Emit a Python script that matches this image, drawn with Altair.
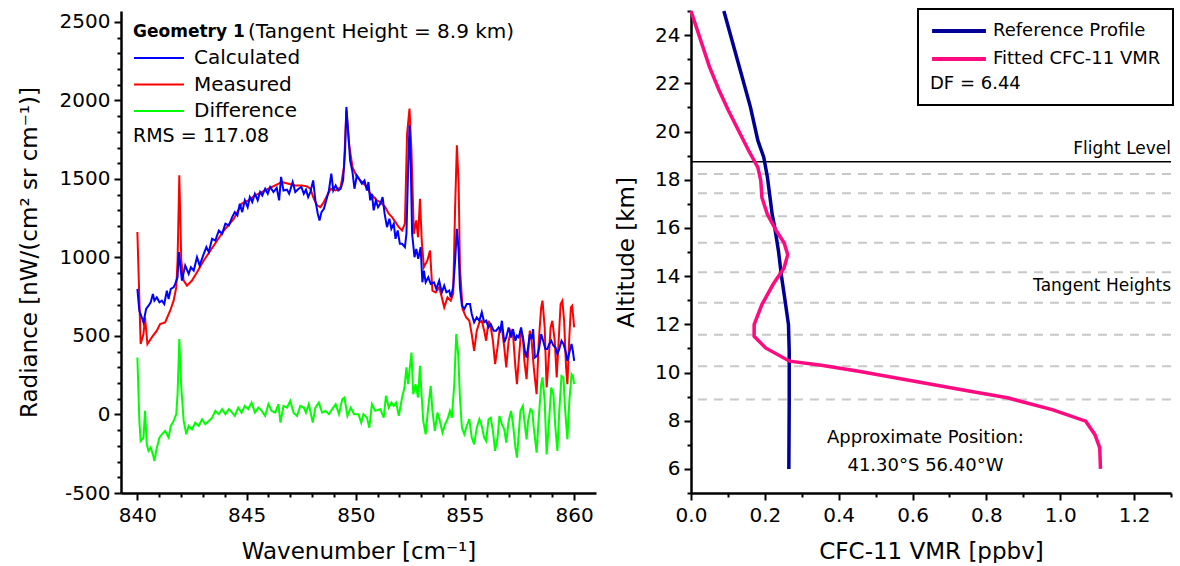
import altair as alt
import pandas as pd

FONT = "DejaVu Sans"

# ---------------- Left panel: spectra ----------------
calc_wn = [840.00, 840.09, 840.20, 840.28, 840.40, 840.51, 840.61, 840.71, 840.78, 840.89,
           841.01, 841.12, 841.23, 841.35, 841.43, 841.53, 841.66, 841.73, 841.84, 841.90,
           841.96, 842.04, 842.19, 842.35, 842.45, 842.58, 842.73, 842.85, 843.01, 843.16,
           843.27, 843.42, 843.57, 843.73, 843.88, 844.03, 844.19, 844.34, 844.46, 844.58,
           844.69, 844.80, 844.92, 845.05, 845.15, 845.26, 845.38, 845.51, 845.62, 845.72,
           845.85, 845.97, 846.08, 846.23, 846.38, 846.49, 846.58, 846.69, 846.85, 846.95,
           847.11, 847.23, 847.38, 847.51, 847.62, 847.72, 847.82, 847.92, 848.05, 848.15,
           848.26, 848.34, 848.43, 848.54, 848.65, 848.77, 848.88, 848.97, 849.08, 849.20,
           849.31, 849.42, 849.51, 849.57, 849.66, 849.74, 849.85, 849.94, 850.05, 850.15,
           850.28, 850.40, 850.51, 850.58, 850.66, 850.74, 850.82, 850.92, 851.02, 851.12,
           851.23, 851.32, 851.43, 851.54, 851.63, 851.74, 851.82, 851.92, 852.02, 852.12,
           852.25, 852.32, 852.40, 852.46, 852.52, 852.58, 852.69, 852.77, 852.86, 852.97,
           853.05, 853.12, 853.20, 853.32, 853.43, 853.58, 853.69, 853.82, 853.94, 854.05,
           854.15, 854.28, 854.35, 854.46, 854.55, 854.63, 854.71, 854.77, 854.86, 854.97,
           855.08, 855.23, 855.31, 855.42, 855.54, 855.66, 855.77, 855.88, 855.97, 856.08,
           856.18, 856.31, 856.43, 856.54, 856.62, 856.69, 856.80, 856.89, 857.00, 857.11,
           857.20, 857.31, 857.38, 857.46, 857.57, 857.66, 857.74, 857.82, 857.89, 857.97,
           858.05, 858.12, 858.20, 858.31, 858.40, 858.49, 858.58, 858.68, 858.77, 858.86,
           858.95, 859.05, 859.15, 859.23, 859.32, 859.42, 859.51, 859.60, 859.69, 859.78,
           859.88, 859.94, 860.00]
calc_val = [800, 661, 619, 587, 672, 693, 715, 768, 725, 746,
            715, 725, 704, 789, 736, 800, 810, 832, 874, 1034,
            959, 853, 949, 896, 938, 917, 1002, 949, 1012, 1066,
            1034, 1119, 1108, 1172, 1151, 1215, 1204, 1257, 1289, 1268,
            1342, 1289, 1364, 1321, 1385, 1353, 1406, 1364, 1417, 1395,
            1438, 1406, 1449, 1417, 1444, 1364, 1513, 1427, 1432, 1406,
            1481, 1417, 1438, 1449, 1406, 1432, 1385, 1417, 1491, 1364,
            1279, 1236, 1289, 1310, 1364, 1427, 1534, 1427, 1459, 1427,
            1438, 1491, 1683, 1959, 1789, 1619, 1544, 1438, 1523, 1502,
            1470, 1491, 1427, 1481, 1364, 1406, 1300, 1364, 1321, 1342,
            1385, 1279, 1193, 1247, 1183, 1215, 1119, 1172, 1087, 1087,
            1066, 1151, 1576, 1842, 1576, 1151, 1002, 1055, 991, 1066,
            842, 917, 842, 874, 832, 842, 800, 853, 778, 821,
            778, 789, 746, 810, 981, 1183, 1044, 810, 693, 672,
            704, 704, 640, 587, 619, 597, 651, 587, 597, 555,
            576, 534, 534, 555, 534, 597, 459, 491, 555, 491,
            544, 470, 502, 491, 555, 480, 406, 363, 427, 512,
            480, 544, 363, 374, 427, 512, 470, 417, 417, 449,
            470, 438, 427, 385, 417, 470, 449, 406, 342, 395,
            449, 406, 342]

meas_wn = [840.00, 840.15, 840.28, 840.35, 840.46, 840.66, 840.89, 841.04, 841.27, 841.50,
           841.66, 841.78, 841.84, 841.92, 842.01, 842.12, 842.27, 842.50, 842.73, 843.04,
           843.50, 843.96, 844.42, 844.77, 845.08, 845.38, 845.69, 846.00, 846.31, 846.62,
           846.92, 847.23, 847.54, 847.77, 847.92, 848.08, 848.23, 848.38, 848.54, 848.85,
           849.08, 849.31, 849.46, 849.57, 849.69, 849.85, 850.05, 850.28, 850.51, 850.66,
           850.82, 850.97, 851.12, 851.35, 851.51, 851.66, 851.82, 851.97, 852.12, 852.25,
           852.35, 852.46, 852.55, 852.66, 852.77, 852.85, 852.94, 853.02, 853.12, 853.28,
           853.40, 853.51, 853.66, 853.82, 853.94, 854.05, 854.20, 854.35, 854.46, 854.55,
           854.63, 854.71, 854.77, 854.89, 855.05, 855.20, 855.31, 855.42, 855.54, 855.66,
           855.77, 855.88, 855.97, 856.08, 856.18, 856.28, 856.38, 856.49, 856.58, 856.69,
           856.80, 856.89, 857.00, 857.11, 857.20, 857.31, 857.38, 857.46, 857.57, 857.66,
           857.72, 857.82, 857.89, 857.97, 858.05, 858.15, 858.28, 858.38, 858.49, 858.55,
           858.65, 858.74, 858.85, 858.92, 859.00, 859.11, 859.20, 859.29, 859.38, 859.46,
           859.54, 859.63, 859.69, 859.77, 859.85, 859.91, 860.00]
meas_val = [1162, 449, 512, 619, 449, 491, 534, 576, 587, 661,
            725, 810, 981, 1523, 981, 853, 821, 853, 906, 981,
            1076, 1172, 1247, 1342, 1364, 1395, 1417, 1438, 1459, 1481,
            1470, 1459, 1459, 1453, 1438, 1374, 1332, 1321, 1353, 1438,
            1427, 1449, 1576, 1938, 1725, 1576, 1513, 1481, 1449, 1406,
            1385, 1364, 1353, 1321, 1279, 1257, 1225, 1193, 1172, 1215,
            1789, 1949, 1683, 1151, 1236, 1130, 1374, 1108, 938, 981,
            1044, 789, 778, 810, 746, 683, 746, 725, 768, 1321,
            1715, 1470, 938, 672, 619, 597, 512, 406, 534, 587,
            597, 534, 470, 597, 555, 470, 321, 427, 534, 555,
            427, 300, 470, 534, 512, 300, 193, 342, 534, 491,
            342, 225, 385, 534, 470, 300, 129, 470, 683, 725,
            555, 172, 385, 555, 597, 470, 236, 470, 704, 725,
            597, 300, 193, 470, 683, 693, 555]

diff_wn = [840.00, 840.09, 840.15, 840.28, 840.35, 840.43, 840.51, 840.61, 840.71, 840.78,
           840.89, 841.01, 841.12, 841.27, 841.43, 841.53, 841.66, 841.78, 841.84, 841.92,
           842.01, 842.12, 842.24, 842.35, 842.50, 842.65, 842.81, 842.96, 843.11, 843.27,
           843.42, 843.57, 843.73, 843.88, 844.03, 844.19, 844.34, 844.46, 844.62, 844.77,
           844.92, 845.08, 845.23, 845.38, 845.54, 845.69, 845.85, 846.00, 846.15, 846.31,
           846.46, 846.55, 846.69, 846.85, 847.00, 847.15, 847.31, 847.46, 847.62, 847.72,
           847.85, 848.03, 848.15, 848.31, 848.46, 848.62, 848.77, 848.92, 849.08, 849.23,
           849.38, 849.48, 849.62, 849.77, 849.92, 850.12, 850.25, 850.35, 850.51, 850.62,
           850.74, 850.89, 851.12, 851.28, 851.38, 851.51, 851.63, 851.74, 851.85, 851.97,
           852.12, 852.23, 852.32, 852.40, 852.46, 852.55, 852.63, 852.74, 852.85, 852.94,
           853.02, 853.09, 853.20, 853.31, 853.43, 853.51, 853.62, 853.74, 853.85, 853.97,
           854.09, 854.20, 854.31, 854.40, 854.51, 854.60, 854.69, 854.77, 854.86, 854.97,
           855.08, 855.20, 855.31, 855.42, 855.54, 855.66, 855.77, 855.88, 855.97, 856.08,
           856.18, 856.28, 856.38, 856.49, 856.58, 856.69, 856.80, 856.89, 857.00, 857.11,
           857.20, 857.31, 857.38, 857.46, 857.54, 857.65, 857.72, 857.82, 857.89, 858.00,
           858.08, 858.15, 858.28, 858.38, 858.49, 858.55, 858.65, 858.74, 858.85, 858.95,
           859.05, 859.14, 859.23, 859.32, 859.42, 859.51, 859.58, 859.69, 859.78, 859.88,
           859.94, 860.00]
diff_val = [363, -41, -169, -147, 23, -190, -232, -211, -254, -296,
            -211, -147, -126, -105, -147, -73, -41, 2, 129, 481,
            172, -41, -126, -73, -94, -52, -73, -30, -62, -41,
            -20, 23, 2, 34, 2, 34, 12, -9, 44, 12,
            55, 34, 76, 12, 44, 23, -9, 66, 23, 12,
            66, -52, 55, 44, 87, 12, -9, 55, 44, 12,
            66, -52, 44, 76, 12, 23, 2, 34, 66, 2,
            97, 108, -9, 44, 2, 2, -52, 2, -20, -84,
            66, 23, 34, -20, 119, 44, 76, 55, 76, -9,
            108, 172, 300, 193, 278, 395, 129, 193, 108, 310,
            108, -41, -126, 34, 183, 23, -105, 12, -41, -115,
            -62, -30, 23, -20, 193, 512, 385, 108, -84, -126,
            -73, -30, -147, -190, -84, -30, -73, -147, -169, -30,
            -20, -105, -232, -147, -9, -62, -94, -179, -41, 23,
            -62, -211, -275, -126, 23, 55, -41, -158, -41, 34,
            23, -84, -243, -20, 193, 236, 87, -254, -41, 172,
            129, -84, -232, 23, 246, 236, 44, -158, 87, 257,
            246, 193]

series_names = ["Calculated", "Measured", "Difference"]
series_colors = ["#0000FF", "#FF0000", "#00FF00"]

# ---------------- Right panel: profiles ----------------
ref_vmr = [0.089, 0.131, 0.161, 0.181, 0.197, 0.207, 0.214, 0.220, 0.227, 0.237,
           0.245, 0.255, 0.264, 0.266, 0.266, 0.265]
ref_alt = [25.0, 22.68, 21.01, 19.63, 18.93, 18.10, 17.26, 16.55, 16.00, 15.03,
           14.00, 12.96, 11.99, 10.88, 8.81, 6.0]
fit_vmr = [0.000, 0.020, 0.050, 0.076, 0.101, 0.131, 0.156, 0.181, 0.189, 0.192,
           0.207, 0.232, 0.252, 0.262, 0.252, 0.222, 0.192, 0.171, 0.171, 0.202,
           0.267, 0.353, 0.454, 0.605, 0.756, 0.857, 0.978, 1.069, 1.094, 1.107, 1.109]
fit_alt = [25.0, 24.07, 22.68, 21.71, 20.88, 19.97, 19.21, 18.51, 17.96, 17.26,
           16.55, 15.86, 15.38, 14.89, 14.34, 13.65, 12.82, 11.99, 11.50, 11.02,
           10.47, 10.30, 10.05, 9.64, 9.22, 8.95, 8.46, 7.98, 7.42, 6.87, 6.0]
profile_names = ["Reference Profile", "Fitted CFC-11 VMR"]
profile_colors = ["#000096", "#FF0A80"]

tangent_heights = [18.24, 17.44, 16.48, 15.38, 14.16, 12.89, 11.57, 10.26, 8.88]
flight_level = [18.75]

# tick lists
left_x_ticks = list(range(840, 861))
left_x_major = [840, 845, 850, 855, 860]
left_y_ticks = list(range(-500, 2501, 100))
left_y_major = [-500, 0, 500, 1000, 1500, 2000, 2500]
right_x_ticks = [0.0, 0.1, 0.2, 0.3, 0.4, 0.5, 0.6, 0.7, 0.8, 0.9, 1.0, 1.1, 1.2, 1.3]
right_x_major = [0.0, 0.2, 0.4, 0.6, 0.8, 1.0, 1.2]
right_y_ticks = list(range(5, 26))
right_y_major = [6, 8, 10, 12, 14, 16, 18, 20, 22, 24]


def is_major(vals):
    return "indexof([" + ",".join(str(v) for v in vals) + "], datum.value) >= 0"


def tick_size(vals):
    return {"condition": {"test": is_major(vals), "value": 7}, "value": 4}


# ---------------- build left ----------------
rows = []
for name, wn, val in [("Calculated", calc_wn, calc_val), ("Measured", meas_wn, meas_val),
                      ("Difference", diff_wn, diff_val)]:
    for i, (a, b) in enumerate(zip(wn, val)):
        rows.append({"series": name, "wn": a, "val": b, "idx": i})
spec_df = pd.DataFrame(rows)

xl = alt.X("wn:Q", scale=alt.Scale(domain=[839.25, 861.0], nice=False, zero=False),
           axis=alt.Axis(title="Wavenumber [cm⁻¹]", values=left_x_ticks,
                         labelExpr=is_major(left_x_major) + " ? '' + datum.value : ''",
                         tickSize=tick_size(left_x_major), labelPadding=5, titlePadding=15))
yl = alt.Y("val:Q", scale=alt.Scale(domain=[-500, 2570], nice=False, zero=False),
           axis=alt.Axis(title="Radiance [nW/(cm² sr cm⁻¹)]", values=left_y_ticks,
                         labelExpr=is_major(left_y_major) + " ? '' + datum.value : ''",
                         tickSize=tick_size(left_y_major), labelPadding=4, titlePadding=18))
col_left = alt.Color("series:N", scale=alt.Scale(domain=series_names, range=series_colors),
                     legend=alt.Legend(title=None, orient="none", legendX=12, legendY=37,
                                       symbolType="stroke", symbolSize=2500, symbolStrokeWidth=2,
                                       clipHeight=20, rowPadding=6.5, labelFontSize=20,
                                       labelOffset=9, labelColor="black", padding=0))

base_l = alt.Chart(spec_df)
layers_l = []
for name in ["Difference", "Measured", "Calculated"]:
    layers_l.append(base_l.transform_filter(alt.datum.series == name)
                    .mark_line(strokeWidth=2)
                    .encode(x=xl, y=yl, color=col_left, order=alt.Order("idx:Q")))

ann_df = pd.DataFrame({"t": ["x"]})
geo_b = alt.Chart(ann_df).mark_text(text="Geometry 1", font=FONT, fontWeight="bold", fontSize=17,
                                    align="left", baseline="middle", color="black").encode(
    x=alt.value(12), y=alt.value(21))
geo_n = alt.Chart(ann_df).mark_text(text="(Tangent Height = 8.9 km)", font=FONT, fontSize=20,
                                    align="left", baseline="middle", color="black").encode(
    x=alt.value(127), y=alt.value(21))
rms = alt.Chart(ann_df).mark_text(text="RMS = 117.08", font=FONT, fontSize=19,
                                  align="left", baseline="middle", color="black").encode(
    x=alt.value(12), y=alt.value(125))

left = alt.layer(*layers_l, geo_b, geo_n, rms).properties(width=475, height=482)

# ---------------- build right ----------------
prow = []
for name, xs, ys in [("Reference Profile", ref_vmr, ref_alt), ("Fitted CFC-11 VMR", fit_vmr, fit_alt)]:
    for i, (a, b) in enumerate(zip(xs, ys)):
        prow.append({"series": name, "vmr": a, "alt": b, "idx": i})
prof_df = pd.DataFrame(prow)

xr_scale = alt.Scale(domain=[0, 1.3], nice=False, zero=False)
xr_axis = alt.Axis(title="CFC-11 VMR [ppbv]", values=right_x_ticks,
                   labelExpr=is_major(right_x_major) + " ? format(datum.value, '.1f') : ''",
                   tickSize=tick_size(right_x_major), labelPadding=5, titlePadding=15)
yr_scale = alt.Scale(domain=[5, 25], nice=False, zero=False)
yr_axis = alt.Axis(title="Altitude [km]", values=right_y_ticks,
                   labelExpr=is_major(right_y_major) + " ? '' + datum.value : ''",
                   tickSize=tick_size(right_y_major), labelPadding=4, titlePadding=16)

th = alt.Chart(pd.DataFrame({"h": tangent_heights})).mark_rule(
    color="#C8C8C8", strokeWidth=2, strokeDash=[9, 7]).encode(
    y=alt.Y("h:Q", scale=yr_scale, axis=yr_axis))
fl = alt.Chart(pd.DataFrame({"h": flight_level})).mark_rule(
    color="black", strokeWidth=1.5).encode(y=alt.Y("h:Q", scale=yr_scale, axis=yr_axis))

col_right = alt.Color("series:N", scale=alt.Scale(domain=profile_names, range=profile_colors),
                      legend=alt.Legend(title="DF = 6.44", titleOrient="bottom", titleAnchor="start",
                                        titleFontWeight="normal", titleFontSize=18, titleColor="black",
                                        titlePadding=6, orient="top-right", offset=-2,
                                        strokeColor="black", fillColor="white", padding=12,
                                        symbolType="stroke", symbolSize=2900, symbolStrokeWidth=4,
                                        clipHeight=20, rowPadding=8, labelFontSize=18, labelLimit=0,
                                        labelOffset=5, labelColor="black"))
prof = alt.Chart(prof_df).mark_line(strokeWidth=3.5).encode(
    x=alt.X("vmr:Q", scale=xr_scale, axis=xr_axis),
    y=alt.Y("alt:Q", scale=yr_scale, axis=yr_axis),
    color=col_right, order=alt.Order("idx:Q"))

txt_df = pd.DataFrame({
    "t": ["Flight Level", "Tangent Heights"],
    "x": [1.3, 1.3],
    "y": [19.27, 13.58],
})
txt_r = alt.Chart(txt_df).mark_text(font=FONT, fontSize=17, align="right", baseline="middle",
                                    color="black").encode(
    x=alt.X("x:Q", scale=xr_scale, axis=xr_axis), y=alt.Y("y:Q", scale=yr_scale, axis=yr_axis), text="t:N")
pos_df = pd.DataFrame({
    "t": ["Approximate Position:", "41.30°S 56.40°W"],
    "x": [0.635, 0.635],
    "y": [7.27, 6.12],
})
txt_p = alt.Chart(pos_df).mark_text(font=FONT, fontSize=18, align="center", baseline="middle",
                                    color="black").encode(
    x=alt.X("x:Q", scale=xr_scale, axis=xr_axis), y=alt.Y("y:Q", scale=yr_scale, axis=yr_axis), text="t:N")

right = alt.layer(th, fl, prof, txt_r, txt_p).properties(width=480, height=482)

chart = (alt.hconcat(left, right, spacing=19)
         .resolve_scale(color="independent")
         .properties(padding={"left": 18, "top": 1, "right": 0, "bottom": 0})
         .configure(font=FONT)
         .configure_axis(labelFont=FONT, titleFont=FONT, labelFontSize=20, titleFontSize=23,
                         titleFontWeight="normal", labelColor="black", titleColor="black",
                         domainColor="black", domainWidth=2.5, tickColor="black", tickWidth=2,
                         grid=False, labelOverlap=False, labelFlush=False)
         .configure_legend(labelFont=FONT, titleFont=FONT, strokeWidth=2)
         .configure_view(stroke=None))

chart.save("out.html", embed_options={"renderer": "svg", "actions": False})
